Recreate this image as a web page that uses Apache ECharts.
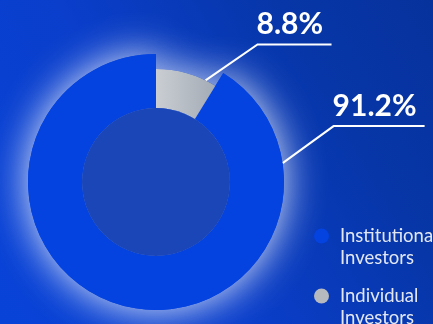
<!DOCTYPE html>
<html>
<head>
<meta charset="utf-8">
<script src="https://cdn.jsdelivr.net/npm/echarts@6/dist/echarts.min.js"></script>
<style>
  html, body { margin: 0; padding: 0; width: 433px; height: 324px; overflow: hidden; }
  body { background: linear-gradient(60deg, #0843d8 0%, #0a3ecb 40%, #0736a8 75%, #06329c 100%); }
  #chart { width: 433px; height: 324px; }
</style>
</head>
<body>
<div id="chart"></div>
<script>
// Shareholder structure
const categories = ['Institutional Investors', 'Individual Investors'];
const shares = [91.2, 8.8];

// Slices are drawn clockwise from 12 o'clock: individual first, then institutional
const drawOrder = [1, 0];

// Styling / layout
const CENTER = [156, 182];
const HOLE_R = 74;
const OUTER_R = [128, 113];
const sliceFill = [
  '#0443e0',
  new echarts.graphic.LinearGradient(0, 0, 1, 0, [
    { offset: 0, color: '#caced3' },
    { offset: 1, color: '#a3abb5' }
  ])
];
const legendFill = ['#0443e0', '#b6b9be'];
const legendTop = [202, 262];
// leader lines: anchor angle on the rim (deg, clockwise from top), elbow offset, horizontal run
const anchorAngle = [81.5, 26];
const elbow = [[51, -37], [52, -36]];
const run = [91, 74];

function placeLabel(catIdx) {
  const a = anchorAngle[catIdx] * Math.PI / 180;
  const r = OUTER_R[catIdx];
  const ax = CENTER[0] + r * Math.sin(a);
  const ay = CENTER[1] - r * Math.cos(a);
  const ex = ax + elbow[catIdx][0];
  const ey = ay + elbow[catIdx][1];
  return {
    x: ex - 1,
    y: ey - 20,
    align: 'left',
    verticalAlign: 'middle',
    labelLinePoints: [[ax, ay], [ex, ey], [ex + run[catIdx], ey]]
  };
}

function ring(catIdx, glow) {
  return {
    type: 'pie',
    center: CENTER,
    radius: [HOLE_R, OUTER_R[catIdx]],
    startAngle: 90,
    clockwise: true,
    silent: true,
    animation: false,
    avoidLabelOverlap: false,
    z: glow ? 1 : 2,
    data: drawOrder.map(i => {
      const own = i === catIdx;
      return {
        name: categories[i],
        value: shares[i],
        itemStyle: own
          ? (glow
              ? { color: '#0443e0', shadowBlur: 40, shadowColor: 'rgba(255,255,255,0.9)' }
              : { color: sliceFill[i] })
          : { color: 'rgba(0,0,0,0)' },
        label: { show: own && !glow },
        labelLine: { show: own && !glow }
      };
    }),
    label: {
      position: 'outside',
      formatter: p => p.value + '%',
      color: '#ffffff',
      fontFamily: 'Lato',
      fontWeight: 'bold',
      fontSize: 30
    },
    labelLine: {
      show: true,
      lineStyle: { color: '#ffffff', width: 2 }
    },
    labelLayout: glow ? undefined : (params) => placeLabel(drawOrder[params.dataIndex])
  };
}

// one legend block per category, marker aligned with the first text line
const legends = categories.map((n, i) => ({
  orient: 'vertical',
  left: 314,
  top: legendTop[i],
  padding: 0,
  itemWidth: 19,
  itemHeight: 15,
  icon: 'circle',
  selectedMode: false,
  data: [{ name: n, itemStyle: { color: legendFill[i] } }],
  formatter: name => '\n' + name.replace(' ', '\n'),
  textStyle: {
    color: '#e2e7f2',
    fontFamily: 'Lato',
    fontSize: 18.5,
    lineHeight: 22,
    padding: [2, 0, 0, 4]
  }
}));

const chart = echarts.init(document.getElementById('chart'), null, { renderer: 'canvas' });
chart.setOption({
  backgroundColor: 'transparent',
  animation: false,
  legend: legends,
  series: [
    ring(0, true),
    ring(1, true),
    ring(0, false),
    ring(1, false),
    {
      type: 'pie',
      center: CENTER,
      radius: [0, HOLE_R],
      silent: true,
      animation: false,
      z: 3,
      label: { show: false },
      labelLine: { show: false },
      data: [{ name: 'core', value: 1, itemStyle: { color: '#1a46b8' } }]
    }
  ]
});
</script>
</body>
</html>
